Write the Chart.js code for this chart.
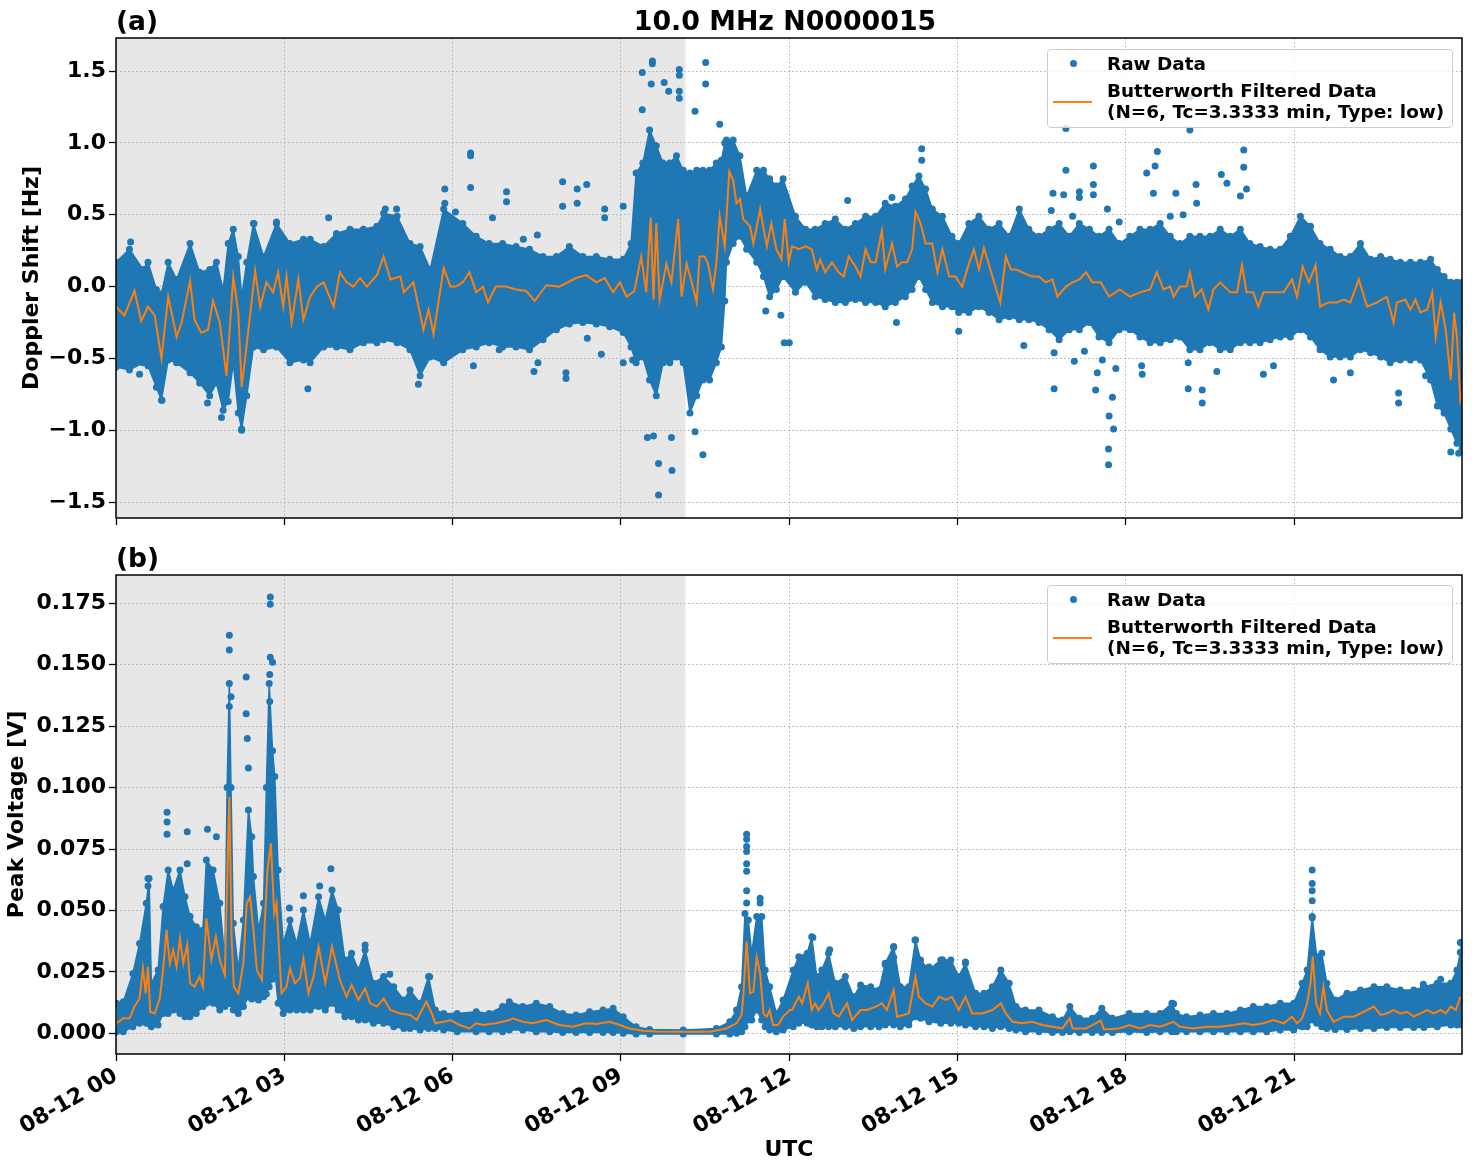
<!DOCTYPE html>
<html>
<head>
<meta charset="utf-8">
<script src="https://cdn.jsdelivr.net/npm/chart.js@4.4.0/dist/chart.umd.min.js"></script>
<style>
html,body{margin:0;padding:0;background:#fff;}
body{width:1472px;height:1172px;position:relative;overflow:hidden;font-family:"DejaVu Sans",sans-serif;font-weight:bold;color:#000;}
canvas{position:absolute;left:0;}
.lbl{position:absolute;white-space:nowrap;line-height:1;}
.legend{position:absolute;left:1047px;width:404px;height:77px;border:1px solid #cccccc;border-radius:4px;background:rgba(255,255,255,0.8);font-size:18.4px;}
.legend .dot{position:absolute;left:21.5px;top:9.5px;width:7px;height:7px;border-radius:50%;background:#1f77b4;}
.legend .ln{position:absolute;left:5px;top:50.5px;width:39px;height:2px;background:#ff7f0e;}
.legend .t1{position:absolute;left:59px;top:2.6px;line-height:21px;white-space:nowrap;}
.legend .t2{position:absolute;left:59px;top:29.6px;line-height:21px;white-space:nowrap;}
</style>
</head>
<body>
<canvas id="top" width="1472" height="538" style="top:0px;width:1472px;height:538px;"></canvas>
<canvas id="bot" width="1472" height="632" style="top:540px;width:1472px;height:632px;"></canvas>

<div class="lbl" style="left:785px;top:8px;transform:translateX(-50%);font-size:26.8px;">10.0 MHz N0000015</div>
<div class="lbl" style="left:116px;top:8px;font-size:26.5px;">(a)</div>
<div class="lbl" style="left:116px;top:545px;font-size:26.5px;">(b)</div>

<div class="legend" style="top:49px;">
  <div class="dot"></div><div class="ln"></div>
  <div class="t1">Raw Data</div>
  <div class="t2">Butterworth Filtered Data<br>(N=6, Tc=3.3333 min, Type: low)</div>
</div>
<div class="legend" style="top:585px;">
  <div class="dot"></div><div class="ln"></div>
  <div class="t1">Raw Data</div>
  <div class="t2">Butterworth Filtered Data<br>(N=6, Tc=3.3333 min, Type: low)</div>
</div>

<script>
// ---------- DATA (hours since 08-12 00 UTC) ----------
const xTickLabels = ['08-12 00','08-12 03','08-12 06','08-12 09','08-12 12','08-12 15','08-12 18','08-12 21'];
const nightStart = 0;
const nightEnd = 10.15;

// Doppler shift: dense raw-data band [hour, upper, lower]
const topBand = [
[0.00,0.17,-0.56],[0.24,0.26,-0.58],[0.48,0.12,-0.53],[0.57,0.17,-0.55],[0.72,-0.02,-0.70],[0.81,-0.05,-0.79],
[0.93,0.17,-0.51],[1.08,0.05,-0.53],[1.32,0.30,-0.60],[1.49,0.10,-0.67],[1.67,0.12,-0.76],[1.79,0.17,-0.67],
[1.91,-0.02,-0.86],[2.00,0.30,-0.80],[2.09,0.40,-0.53],[2.18,0.21,-0.88],[2.24,-0.07,-0.99],[2.33,0.17,-0.76],
[2.45,0.44,-0.42],[2.63,0.21,-0.44],[2.86,0.44,-0.42],[3.10,0.30,-0.53],[3.34,0.33,-0.51],[3.46,0.33,-0.53],
[3.70,0.28,-0.42],[3.93,0.37,-0.42],[4.17,0.40,-0.44],[4.41,0.40,-0.39],[4.65,0.42,-0.39],[4.77,0.51,-0.37],
[5.01,0.49,-0.39],[5.24,0.30,-0.44],[5.42,0.28,-0.62],[5.60,0.12,-0.49],[5.84,0.54,-0.53],[6.18,0.44,-0.44],
[6.42,0.35,-0.42],[6.65,0.30,-0.39],[6.89,0.30,-0.42],[7.13,0.28,-0.42],[7.37,0.26,-0.44],[7.61,0.21,-0.37],
[7.85,0.21,-0.30],[8.08,0.28,-0.26],[8.32,0.21,-0.25],[8.56,0.21,-0.26],[8.80,0.19,-0.28],[9.04,0.19,-0.32],
[9.18,0.30,-0.42],[9.27,0.79,-0.53],[9.39,0.86,-0.49],[9.51,1.09,-0.65],[9.63,0.98,-0.76],[9.75,0.86,-0.53],
[9.87,0.86,-0.53],[9.99,0.91,-0.49],[10.11,0.81,-0.53],[10.23,0.79,-0.88],[10.35,0.81,-0.76],[10.46,0.81,-0.65],
[10.58,0.81,-0.65],[10.70,0.86,-0.53],[10.79,0.88,-0.42],[10.85,1.00,-0.10],[10.88,1.02,0.17],[11.00,1.02,0.30],
[11.12,0.91,0.35],[11.24,0.63,0.26],[11.42,0.81,0.17],[11.54,0.81,0.07],[11.65,0.75,-0.07],[11.77,0.70,-0.02],
[11.89,0.75,0.07],[12.11,0.49,-0.04],[12.29,0.40,0.03],[12.46,0.40,-0.07],[12.64,0.44,-0.09],[12.82,0.47,-0.11],
[13.00,0.40,-0.11],[13.18,0.44,-0.09],[13.36,0.49,-0.11],[13.54,0.49,-0.11],[13.71,0.58,-0.14],[13.89,0.56,-0.11],
[14.07,0.61,-0.07],[14.19,0.70,-0.02],[14.31,0.77,0.07],[14.43,0.68,-0.02],[14.55,0.54,-0.11],[14.73,0.49,-0.14],
[14.90,0.35,-0.14],[15.02,0.30,-0.18],[15.20,0.44,-0.18],[15.38,0.49,-0.14],[15.56,0.40,-0.18],[15.74,0.44,-0.23],
[15.92,0.35,-0.21],[16.10,0.54,-0.23],[16.27,0.40,-0.23],[16.45,0.35,-0.25],[16.63,0.40,-0.30],[16.81,0.44,-0.37],
[16.99,0.35,-0.30],[17.17,0.44,-0.30],[17.35,0.40,-0.25],[17.52,0.35,-0.35],[17.70,0.40,-0.39],[17.88,0.30,-0.30],
[18.07,0.35,-0.30],[18.25,0.40,-0.35],[18.43,0.40,-0.39],[18.61,0.44,-0.39],[18.79,0.35,-0.37],[18.96,0.30,-0.35],
[19.14,0.35,-0.44],[19.32,0.35,-0.44],[19.50,0.35,-0.39],[19.68,0.40,-0.44],[19.86,0.35,-0.44],[20.04,0.40,-0.39],
[20.21,0.30,-0.39],[20.39,0.28,-0.39],[20.57,0.26,-0.37],[20.75,0.26,-0.35],[20.93,0.35,-0.35],[21.11,0.49,-0.30],
[21.29,0.42,-0.35],[21.46,0.30,-0.44],[21.64,0.26,-0.49],[21.82,0.21,-0.49],[22.00,0.21,-0.49],[22.18,0.30,-0.44],
[22.36,0.19,-0.46],[22.54,0.21,-0.49],[22.71,0.19,-0.53],[22.89,0.17,-0.51],[23.07,0.17,-0.51],[23.25,0.17,-0.51],
[23.43,0.19,-0.65],[23.55,0.12,-0.83],[23.67,0.07,-0.88],[23.79,0.03,-0.99],[23.90,0.03,-1.09],[23.99,0.03,-1.13]
];

// Doppler shift: isolated raw points [hour, Hz]
const topOutliers = [
[5.86,0.68],[5.86,0.58],[3.79,0.48],[5.00,0.54],[4.80,0.54],[2.46,0.44],[2.86,0.45],[0.26,0.31],
[2.24,-1.00],[1.88,-0.91],[1.63,-0.81],[0.82,-0.79],[3.42,-0.71],[5.39,-0.68],[0.42,-0.61],
[9.56,1.57],[9.56,1.55],[9.38,1.49],[10.04,1.51],[10.04,1.47],[10.51,1.56],[10.51,1.41],[9.54,1.41],
[9.77,1.42],[9.85,1.36],[10.04,1.36],[10.04,1.31],[9.38,1.23],[10.32,1.22],[10.76,1.13],[6.32,0.93],
[6.32,0.91],[6.32,0.69],[6.96,0.66],[6.96,0.59],[7.96,0.73],[8.22,0.68],[8.39,0.71],[9.04,0.56],
[8.71,0.54],[8.71,0.48],[8.22,0.58],[7.96,0.56],[6.71,0.48],[7.51,0.36],[7.26,0.33],[6.05,0.52],
[9.67,-1.45],[9.67,-1.23],[9.91,-1.28],[9.47,-1.05],[9.58,-1.04],[10.46,-1.17],[10.32,-1.01],[9.90,-1.05],
[8.02,-0.64],[8.02,-0.60],[7.45,-0.59],[6.37,-0.55],[8.65,-0.47],[11.91,-0.39],[11.58,-0.17],[11.85,-0.20],
[6.83,-0.44],[7.01,-0.38],[7.52,-0.53],[9.04,-0.53],[9.21,-0.51],[8.40,-0.36],
[16.93,1.10],[16.93,0.81],[17.42,0.84],[17.42,0.71],[14.36,0.96],[14.36,0.88],[16.70,0.65],[17.17,0.66],
[16.67,0.53],[16.89,0.64],[17.05,0.49],[17.17,0.62],[17.42,0.64],[17.67,0.54],[17.88,0.45],[13.04,0.60],[13.83,0.62],
[15.02,-0.31],[13.91,-0.25],[16.72,-0.71],[17.46,-0.72],[17.70,-0.90],[17.78,-0.99],[17.69,-1.13],[17.69,-1.24],
[17.49,-0.60],[17.76,-0.77],[12.00,-0.39],[16.18,-0.41],[17.08,-0.52],
[16.72,-0.46],[17.26,-0.45],[17.58,-0.51],[17.82,-0.57],
[19.14,1.32],[19.14,1.09],[18.56,0.94],[20.10,0.95],[18.52,0.84],[18.37,0.79],[19.70,0.78],[20.10,0.83],
[19.25,0.71],[18.89,0.65],[18.49,0.65],[18.79,0.49],[19.02,0.50],[19.26,0.58],[19.80,0.72],[20.04,0.63],[20.15,0.68],
[19.11,-0.71],[19.36,-0.81],[19.36,-0.72],[22.86,-0.81],[23.79,-1.15],[23.93,-1.16],
[18.29,-0.61],[20.45,-0.61],[21.70,-0.65],[18.28,-0.55],[19.11,-0.53],[19.62,-0.59],[20.63,-0.55],[22.00,-0.60],
[22.86,-0.74],[23.34,-0.62]
];

// Doppler shift: Butterworth filtered [hour, Hz]
const topFiltered = [
[0.00,-0.14],[0.15,-0.20],[0.33,-0.03],[0.45,-0.24],[0.57,-0.14],[0.69,-0.20],[0.81,-0.50],[0.93,-0.07],[0.99,-0.18],
[1.08,-0.35],[1.17,-0.25],[1.32,0.04],[1.40,-0.23],[1.52,-0.32],[1.64,-0.30],[1.73,-0.10],[1.85,-0.25],[1.97,-0.62],
[2.09,0.07],[2.18,-0.18],[2.24,-0.70],[2.36,-0.30],[2.48,0.11],[2.57,-0.14],[2.68,0.03],[2.80,-0.04],[2.89,0.10],
[2.98,-0.14],[3.04,0.07],[3.13,-0.25],[3.25,0.05],[3.34,-0.23],[3.46,-0.07],[3.58,0.00],[3.70,0.03],[3.88,-0.14],
[3.99,0.10],[4.11,0.03],[4.23,0.00],[4.35,0.06],[4.47,0.00],[4.65,0.08],[4.77,0.21],[4.89,0.05],[5.07,0.07],
[5.13,-0.04],[5.30,0.03],[5.48,-0.30],[5.57,-0.16],[5.66,-0.33],[5.84,0.13],[5.96,0.00],[6.06,0.00],[6.18,0.03],
[6.30,0.10],[6.42,-0.04],[6.54,0.00],[6.63,-0.11],[6.77,0.00],[6.95,0.00],[7.13,-0.02],[7.31,-0.03],[7.46,-0.10],
[7.67,0.01],[7.90,0.00],[8.20,0.06],[8.38,0.08],[8.56,0.03],[8.71,0.06],[8.86,-0.04],[8.98,0.03],[9.10,-0.07],
[9.24,-0.03],[9.36,0.21],[9.45,-0.04],[9.53,0.48],[9.58,-0.09],[9.63,0.44],[9.69,-0.09],[9.81,0.16],[9.90,0.03],
[10.02,0.47],[10.08,-0.07],[10.17,0.16],[10.26,0.03],[10.35,-0.11],[10.40,0.21],[10.49,0.21],[10.55,0.16],[10.64,-0.02],
[10.70,0.16],[10.76,0.49],[10.85,0.28],[10.93,0.80],[11.00,0.74],[11.06,0.58],[11.12,0.61],[11.18,0.47],[11.30,0.42],
[11.36,0.30],[11.48,0.54],[11.60,0.28],[11.68,0.44],[11.77,0.26],[11.86,0.19],[11.92,0.47],[11.99,0.17],[12.05,0.28],
[12.17,0.26],[12.29,0.28],[12.40,0.26],[12.49,0.12],[12.55,0.19],[12.64,0.10],[12.76,0.17],[12.88,0.10],[12.97,0.07],
[13.06,0.21],[13.18,0.14],[13.27,0.07],[13.36,0.26],[13.45,0.17],[13.54,0.17],[13.65,0.39],[13.71,0.12],[13.83,0.30],
[13.92,0.14],[14.01,0.17],[14.10,0.17],[14.19,0.26],[14.25,0.52],[14.34,0.44],[14.43,0.30],[14.55,0.30],[14.64,0.10],
[14.73,0.26],[14.85,0.07],[14.96,0.07],[15.08,0.00],[15.17,0.12],[15.29,0.26],[15.38,0.12],[15.47,0.27],[15.62,0.07],
[15.76,-0.11],[15.86,0.21],[15.95,0.12],[16.04,0.12],[16.15,0.10],[16.33,0.07],[16.45,0.07],[16.57,0.03],[16.69,0.05],
[16.78,-0.07],[16.93,0.00],[17.05,0.03],[17.17,0.05],[17.29,0.10],[17.40,0.03],[17.55,0.03],[17.70,-0.07],[17.89,-0.02],
[18.07,-0.07],[18.25,-0.04],[18.43,-0.02],[18.55,0.10],[18.67,-0.02],[18.79,0.00],[18.85,-0.07],[18.96,0.00],[19.08,0.00],
[19.14,0.10],[19.23,-0.07],[19.35,-0.02],[19.47,-0.16],[19.56,-0.02],[19.68,0.03],[19.86,-0.04],[19.98,-0.04],[20.07,0.15],
[20.15,-0.04],[20.27,-0.04],[20.36,-0.14],[20.45,-0.04],[20.63,-0.04],[20.81,-0.04],[20.96,0.05],[21.05,-0.07],[21.15,0.14],
[21.26,0.03],[21.38,0.15],[21.46,-0.14],[21.61,-0.11],[21.76,-0.11],[21.88,-0.09],[22.00,-0.11],[22.15,0.05],[22.30,-0.14],
[22.48,-0.11],[22.65,-0.07],[22.77,-0.25],[22.83,-0.11],[22.98,-0.09],[23.07,-0.16],[23.16,-0.09],[23.25,-0.18],[23.37,-0.16],
[23.46,-0.04],[23.52,-0.35],[23.61,-0.11],[23.70,-0.30],[23.79,-0.65],[23.85,-0.18],[23.90,-0.35],[23.96,-0.79],[23.99,-0.74]
];

// Peak voltage: dense raw-data band [hour, upper, lower]
const botBand = [
[0.01,0.0122,0.0007],[0.13,0.0129,0.0007],[0.30,0.0244,0.0027],[0.42,0.0366,0.0041],[0.54,0.0529,0.0041],[0.59,0.0630,0.0040],
[0.63,0.0204,0.0027],[0.75,0.0258,0.0034],[0.84,0.0516,0.0081],[0.93,0.0665,0.0081],[1.02,0.0583,0.0095],[1.14,0.0665,0.0081],
[1.23,0.0556,0.0068],[1.32,0.0475,0.0068],[1.43,0.0434,0.0081],[1.55,0.0421,0.0109],[1.61,0.0705,0.0122],[1.73,0.0665,0.0122],
[1.85,0.0529,0.0095],[1.94,0.0298,0.0109],[1.98,0.1000,0.0120],[2.02,0.1424,0.0122],[2.05,0.1000,0.0120],[2.09,0.0448,0.0095],
[2.18,0.0258,0.0081],[2.27,0.0461,0.0109],[2.36,0.0909,0.0149],[2.42,0.0800,0.0140],[2.45,0.0638,0.0149],[2.54,0.0421,0.0136],
[2.63,0.0529,0.0149],[2.68,0.1000,0.0160],[2.73,0.1424,0.0190],[2.79,0.1150,0.0220],[2.83,0.1045,0.0258],[2.89,0.0665,0.0122],
[2.98,0.0366,0.0081],[3.10,0.0461,0.0095],[3.22,0.0366,0.0095],[3.34,0.0502,0.0095],[3.46,0.0366,0.0095],[3.61,0.0556,0.0109],
[3.73,0.0461,0.0095],[3.85,0.0583,0.0122],[3.96,0.0502,0.0095],[4.08,0.0298,0.0068],[4.20,0.0326,0.0068],[4.32,0.0258,0.0054],
[4.44,0.0339,0.0054],[4.59,0.0204,0.0041],[4.77,0.0231,0.0041],[4.95,0.0190,0.0027],[5.13,0.0136,0.0020],[5.24,0.0176,0.0020],
[5.42,0.0122,0.0014],[5.57,0.0231,0.0020],[5.69,0.0095,0.0020],[5.84,0.0081,0.0014],[6.08,0.0081,0.0007],[6.42,0.0088,0.0007],
[6.65,0.0081,0.0007],[6.89,0.0109,0.0007],[7.01,0.0129,0.0014],[7.25,0.0109,0.0014],[7.49,0.0122,0.0007],[7.73,0.0109,0.0007],
[7.96,0.0081,0.0003],[8.20,0.0075,0.0003],[8.44,0.0088,0.0003],[8.68,0.0095,0.0003],[8.86,0.0102,0.0003],[9.04,0.0068,0.0000],
[9.27,0.0027,-0.0003],[9.51,0.0016,-0.0003],[10.11,0.0014,-0.0003],[10.70,0.0020,-0.0003],[10.94,0.0047,-0.0003],[11.06,0.0095,0.0000],
[11.15,0.0190,0.0007],[11.21,0.0488,0.0027],[11.27,0.0461,0.0054],[11.33,0.0326,0.0054],[11.42,0.0475,0.0095],[11.51,0.0475,0.0054],
[11.57,0.0258,0.0027],[11.65,0.0190,0.0014],[11.77,0.0081,0.0007],[11.89,0.0136,0.0014],[12.07,0.0258,0.0027],[12.17,0.0312,0.0041],
[12.32,0.0326,0.0041],[12.40,0.0393,0.0034],[12.49,0.0231,0.0027],[12.58,0.0258,0.0027],[12.70,0.0326,0.0027],[12.82,0.0204,0.0027],
[13.00,0.0231,0.0027],[13.15,0.0149,0.0020],[13.27,0.0197,0.0027],[13.45,0.0190,0.0027],[13.60,0.0176,0.0027],[13.71,0.0285,0.0034],
[13.86,0.0353,0.0034],[13.98,0.0190,0.0027],[14.13,0.0190,0.0034],[14.25,0.0380,0.0068],[14.34,0.0298,0.0061],[14.49,0.0258,0.0047],
[14.70,0.0298,0.0041],[14.88,0.0298,0.0041],[15.02,0.0231,0.0041],[15.14,0.0285,0.0034],[15.32,0.0163,0.0027],[15.47,0.0163,0.0027],
[15.62,0.0190,0.0020],[15.77,0.0258,0.0027],[15.92,0.0204,0.0020],[16.04,0.0109,0.0014],[16.21,0.0095,0.0007],[16.45,0.0095,0.0007],
[16.69,0.0068,0.0003],[16.87,0.0054,0.0003],[17.00,0.0109,0.0007],[17.17,0.0061,0.0003],[17.40,0.0061,0.0003],[17.57,0.0102,0.0003],
[17.76,0.0061,0.0003],[18.06,0.0081,0.0007],[18.37,0.0081,0.0003],[18.61,0.0081,0.0007],[18.82,0.0122,0.0007],[18.90,0.0081,0.0007],
[19.08,0.0068,0.0007],[19.32,0.0075,0.0007],[19.56,0.0081,0.0007],[19.80,0.0081,0.0007],[20.04,0.0095,0.0007],[20.27,0.0109,0.0007],
[20.51,0.0109,0.0007],[20.75,0.0122,0.0014],[20.99,0.0122,0.0014],[21.14,0.0204,0.0027],[21.23,0.0258,0.0027],[21.32,0.0475,0.0054],
[21.40,0.0312,0.0041],[21.49,0.0326,0.0027],[21.58,0.0204,0.0020],[21.73,0.0136,0.0016],[21.94,0.0163,0.0016],[22.18,0.0176,0.0020],
[22.42,0.0190,0.0020],[22.65,0.0190,0.0024],[22.89,0.0176,0.0024],[23.13,0.0176,0.0024],[23.31,0.0190,0.0024],[23.55,0.0204,0.0027],
[23.79,0.0204,0.0034],[23.90,0.0258,0.0034],[23.99,0.0366,0.0034]
];

// Peak voltage: isolated raw points [hour, V]
const botOutliers = [
[2.75,0.1775],[2.75,0.1746],[2.02,0.1620],[2.02,0.1560],[2.32,0.1450],[2.32,0.1300],[2.75,0.1530],[2.79,0.1510],
[2.74,0.1460],[2.74,0.1350],[2.05,0.1370],[2.02,0.1330],[0.91,0.0900],[0.91,0.0860],[0.91,0.0810],[1.27,0.0820],
[1.63,0.0830],[1.79,0.0800],[0.57,0.0630],[0.57,0.0600],[3.83,0.0670],[3.63,0.0600],[3.34,0.0560],[3.09,0.0510],
[4.44,0.0360],[4.88,0.0240],[5.59,0.0230],[1.27,0.0690],[2.34,0.1200],[2.36,0.1080],
[11.24,0.0810],[11.24,0.0790],[11.24,0.0760],[11.24,0.0740],[11.24,0.0690],[11.24,0.0660],[11.24,0.0580],[11.24,0.0530],
[11.48,0.0550],[11.48,0.0530],
[12.42,0.0390],[12.72,0.0340],[13.86,0.0350],[13.86,0.0310],[13.71,0.0280],[14.24,0.0380],[14.73,0.0300],[15.14,0.0290],[14.49,0.0270],
[21.32,0.0665],[21.32,0.0610],[21.32,0.0580],[21.32,0.0540],[21.32,0.0470],[18.85,0.0120],[23.30,0.0200],[23.61,0.0220],
[23.96,0.0370],[23.96,0.0330]
];

// Peak voltage: Butterworth filtered [hour, V]
const botFiltered = [
[0.01,0.0041],[0.13,0.0061],[0.24,0.0061],[0.33,0.0109],[0.42,0.0142],[0.48,0.0265],[0.53,0.0163],[0.57,0.0271],[0.61,0.0088],
[0.69,0.0081],[0.78,0.0142],[0.84,0.0258],[0.90,0.0421],[0.96,0.0285],[1.02,0.0339],[1.08,0.0271],[1.14,0.0387],[1.20,0.0285],
[1.27,0.0360],[1.32,0.0204],[1.40,0.0190],[1.49,0.0231],[1.55,0.0190],[1.61,0.0468],[1.70,0.0298],[1.78,0.0393],[1.85,0.0298],
[1.94,0.0237],[2.02,0.0963],[2.06,0.0393],[2.10,0.0190],[2.18,0.0163],[2.27,0.0285],[2.33,0.0529],[2.39,0.0556],[2.45,0.0421],
[2.51,0.0258],[2.60,0.0217],[2.70,0.0665],[2.76,0.0773],[2.82,0.0488],[2.86,0.0529],[2.95,0.0163],[3.04,0.0190],[3.10,0.0265],
[3.19,0.0204],[3.28,0.0224],[3.34,0.0305],[3.43,0.0163],[3.52,0.0231],[3.61,0.0353],[3.73,0.0204],[3.85,0.0353],[3.99,0.0217],
[4.11,0.0149],[4.20,0.0197],[4.32,0.0136],[4.44,0.0183],[4.53,0.0122],[4.65,0.0109],[4.77,0.0142],[4.89,0.0095],[5.07,0.0081],
[5.24,0.0075],[5.36,0.0054],[5.53,0.0129],[5.63,0.0081],[5.69,0.0041],[5.84,0.0047],[5.96,0.0054],[6.12,0.0034],[6.30,0.0020],
[6.42,0.0041],[6.54,0.0034],[6.77,0.0041],[7.01,0.0054],[7.07,0.0061],[7.25,0.0047],[7.43,0.0041],[7.67,0.0054],[7.90,0.0034],
[8.14,0.0027],[8.38,0.0041],[8.56,0.0038],[8.80,0.0047],[8.98,0.0034],[9.15,0.0020],[9.39,0.0011],[9.63,0.0008],[10.11,0.0007],
[10.58,0.0007],[10.88,0.0020],[11.06,0.0041],[11.15,0.0075],[11.18,0.0149],[11.24,0.0373],[11.30,0.0163],[11.36,0.0170],[11.42,0.0312],
[11.48,0.0244],[11.54,0.0081],[11.60,0.0068],[11.65,0.0095],[11.71,0.0034],[11.80,0.0034],[11.89,0.0068],[12.01,0.0095],[12.05,0.0095],
[12.17,0.0149],[12.23,0.0122],[12.33,0.0204],[12.40,0.0095],[12.46,0.0122],[12.52,0.0095],[12.61,0.0122],[12.70,0.0163],[12.79,0.0081],
[12.88,0.0068],[13.03,0.0122],[13.12,0.0054],[13.27,0.0095],[13.39,0.0095],[13.54,0.0109],[13.65,0.0122],[13.74,0.0095],[13.86,0.0176],
[13.92,0.0068],[14.13,0.0081],[14.25,0.0231],[14.31,0.0149],[14.43,0.0122],[14.55,0.0109],[14.67,0.0149],[14.79,0.0136],[14.90,0.0149],
[15.02,0.0095],[15.14,0.0149],[15.26,0.0081],[15.44,0.0081],[15.62,0.0095],[15.77,0.0122],[15.86,0.0081],[15.98,0.0047],[16.15,0.0041],
[16.33,0.0047],[16.51,0.0034],[16.69,0.0027],[16.87,0.0020],[17.00,0.0061],[17.05,0.0020],[17.29,0.0020],[17.55,0.0052],[17.61,0.0016],
[17.88,0.0020],[18.06,0.0034],[18.25,0.0020],[18.43,0.0034],[18.61,0.0027],[18.85,0.0047],[18.96,0.0027],[19.20,0.0020],[19.44,0.0027],
[19.68,0.0027],[19.92,0.0034],[20.10,0.0041],[20.27,0.0034],[20.45,0.0041],[20.63,0.0054],[20.81,0.0041],[20.96,0.0068],[21.05,0.0041],
[21.14,0.0061],[21.23,0.0122],[21.29,0.0204],[21.33,0.0312],[21.39,0.0122],[21.46,0.0081],[21.52,0.0190],[21.58,0.0095],[21.70,0.0047],
[21.88,0.0068],[22.06,0.0068],[22.24,0.0088],[22.42,0.0109],[22.54,0.0075],[22.65,0.0081],[22.77,0.0095],[22.89,0.0081],[23.01,0.0088],
[23.13,0.0068],[23.25,0.0081],[23.37,0.0095],[23.49,0.0081],[23.61,0.0095],[23.70,0.0081],[23.79,0.0109],[23.88,0.0095],[23.96,0.0149]
];

// ---------- CHART ----------
const BLUE = '#1f77b4', ORANGE = '#ff7f0e';
Chart.defaults.font.family = "'DejaVu Sans', sans-serif";
Chart.defaults.font.weight = 'bold';
Chart.defaults.color = '#000';

const framePlugin = {
  id: 'frame',
  beforeDraw(chart) {
    const {ctx, chartArea: a} = chart;
    const xs = chart.scales.x;
    ctx.save();
    ctx.fillStyle = '#fff';
    ctx.fillRect(0, 0, chart.width, chart.height);
    const x0 = xs.getPixelForValue(nightStart), x1 = xs.getPixelForValue(nightEnd);
    ctx.fillStyle = '#e7e7e7';
    ctx.fillRect(x0, a.top, x1 - x0, a.bottom - a.top);
    ctx.restore();
  },
  afterDraw(chart) {
    const {ctx, chartArea: a} = chart;
    ctx.save();
    ctx.strokeStyle = '#000';
    ctx.lineWidth = 1.5;
    ctx.strokeRect(a.left, a.top, a.right - a.left, a.bottom - a.top);
    ctx.restore();
  }
};

function datasets(band, outliers, filtered) {
  const pts = (arr, k) => arr.map(r => ({x: r[0], y: r[k]}));
  return [
    {label: 'band-low', data: pts(band, 2), borderColor: BLUE, backgroundColor: BLUE, borderWidth: 1.5,
     pointRadius: 3.5, pointBorderWidth: 0, pointBackgroundColor: BLUE, fill: false, order: 3, tension: 0},
    {label: 'band-high', data: pts(band, 1), borderColor: BLUE, backgroundColor: BLUE, borderWidth: 1.5,
     pointRadius: 3.5, pointBorderWidth: 0, pointBackgroundColor: BLUE, fill: '-1', order: 2, tension: 0},
    {label: 'Raw Data', data: pts(outliers, 1), showLine: false, pointRadius: 3.5, pointBorderWidth: 0,
     pointBackgroundColor: BLUE, borderColor: BLUE, order: 1},
    {label: 'Butterworth Filtered Data', data: pts(filtered, 1), borderColor: ORANGE, borderWidth: 2,
     pointRadius: 0, fill: false, order: 0, tension: 0}
  ];
}

function makeChart(id, cfg) {
  return new Chart(document.getElementById(id), {
    type: 'line',
    data: {datasets: datasets(cfg.band, cfg.outliers, cfg.filtered)},
    plugins: [framePlugin],
    options: {
      responsive: false, animation: false, devicePixelRatio: 1, events: [],
      layout: {padding: {top: cfg.padTop, right: 10, left: 0, bottom: 0}},
      plugins: {legend: {display: false}, tooltip: {enabled: false}},
      scales: {
        x: {
          type: 'linear', min: 0, max: 23.99,
          afterFit: s => { s.height = cfg.xHeight; },
          ticks: {stepSize: 3, includeBounds: false, autoSkip: false, display: cfg.xLabels,
                  minRotation: 30, maxRotation: 30, padding: 2, font: {size: 22, weight: 'bold'}, color: '#000',
                  callback: v => { const i = Math.round(v / 3); return xTickLabels[i] !== undefined ? xTickLabels[i] : ''; }},
          grid: {color: '#b0b0b0', lineWidth: 1, tickColor: '#000', tickLength: 7, tickWidth: 1.3},
          border: {display: false, dash: [1.5, 2.5]},
          title: {display: cfg.xLabels, text: 'UTC', font: {size: 22, weight: 'bold'}, color: '#000',
                  padding: {top: 0, bottom: 9}}
        },
        y: {
          type: 'linear', min: cfg.yMin, max: cfg.yMax,
          afterFit: s => { s.width = 116; },
          ticks: {stepSize: cfg.yStep, includeBounds: false, padding: 3, font: {size: 22, weight: 'bold'}, color: '#000',
                  callback: cfg.yFmt},
          grid: {color: '#b0b0b0', lineWidth: 1, tickColor: '#000', tickLength: 7, tickWidth: 1.3},
          border: {display: false, dash: [1.5, 2.5]},
          title: {display: true, text: cfg.yTitle, font: {size: 22, weight: 'bold'}, color: '#000',
                  padding: {top: cfg.yTitlePad, bottom: 0}}
        }
      }
    }
  });
}

makeChart('top', {
  band: topBand, outliers: topOutliers, filtered: topFiltered,
  padTop: 38, xHeight: 20, xLabels: false,
  yMin: -1.61, yMax: 1.73, yStep: 0.5, yTitle: 'Doppler Shift [Hz]', yTitlePad: 19,
  yFmt: v => { let s = v.toFixed(1); if (s === '-0.0') s = '0.0'; return s.replace('-', '\u2212'); }
});
makeChart('bot', {
  band: botBand, outliers: botOutliers, filtered: botFiltered,
  padTop: 35, xHeight: 118, xLabels: true,
  yMin: -0.0084, yMax: 0.1865, yStep: 0.025, yTitle: 'Peak Voltage [V]', yTitlePad: 4,
  yFmt: v => { let s = v.toFixed(3); if (s === '-0.000') s = '0.000'; return s.replace('-', '\u2212'); }
});
</script>
</body>
</html>
